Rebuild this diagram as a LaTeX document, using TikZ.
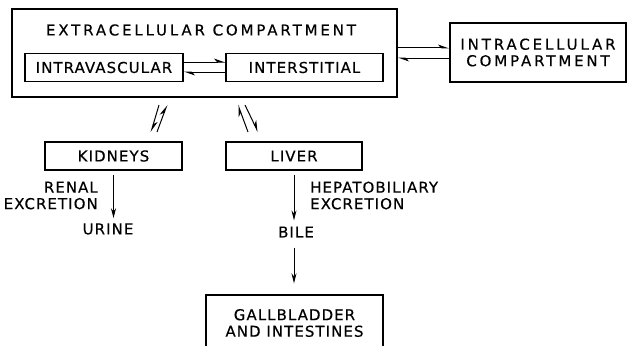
\documentclass[tikz,border=0pt]{standalone}
\usepackage{fontspec}
\usetikzlibrary{arrows.meta}
\newfontfamily\letra{DejaVu Sans}[LetterSpace=7, FakeBold=0.4]
\newfontfamily\letrancha{DejaVu Sans}[LetterSpace=19, FakeBold=0.4]
\begin{document}
\begin{tikzpicture}[
  x=1pt, y=-1pt,
  bloque/.style={draw, line width=1.4pt, inner sep=0pt},
  texto/.style={align=center, inner sep=0pt, font=\letra\fontsize{15}{16.5}\selectfont},
  ancho/.style={font=\letrancha\fontsize{15}{16.5}\selectfont},
  flechita/.style={-{Stealth[harpoon, length=10pt, width=7pt]}, line width=1pt},
  bajada/.style={-{Stealth[length=10pt, width=5pt]}, line width=1pt}
]
  \useasboundingbox (0,0) rectangle (628,345);
  \node[bloque, minimum width=385pt, minimum height=88pt] (extra) at (204.5,53) {};
  \node[texto, ancho] (titulo) at (201,30) {EXTRACELLULAR COMPARTMENT};
  \node[bloque, texto, minimum width=158pt, minimum height=28pt] (intravasc) at (104,67.5) {INTRAVASCULAR};
  \node[bloque, texto, minimum width=157pt, minimum height=28pt] (interst) at (304.5,67.5) {INTERSTITIAL};
  \node[bloque, texto, ancho, minimum width=176pt, minimum height=59pt] (intracel) at (538,52.5) {INTRACELLULAR\\COMPARTMENT};
  \node[bloque, texto, minimum width=137pt, minimum height=28pt] (kidneys) at (113.5,156) {KIDNEYS};
  \node[bloque, texto, minimum width=136pt, minimum height=28pt] (liver) at (294,156) {LIVER};
  \node[texto] (urine) at (108,229) {URINE};
  \node[texto] (bile) at (296,232) {BILE};
  \node[bloque, texto, minimum width=177pt, minimum height=56pt] (gall) at (294.5,323) {GALLBLADDER\\AND INTESTINES};
  \node[texto, anchor=east, align=right] (renal) at (98,195.5) {RENAL\\EXCRETION};
  \node[texto, anchor=west, align=left] (hepato) at (310,195.5) {HEPATOBILIARY\\EXCRETION};
  \coordinate (r1) at (159,105); \coordinate (r2) at (151,132);
  \coordinate (r3) at (157,132); \coordinate (r4) at (167,105);
  \coordinate (h1) at (248,132); \coordinate (h2) at (238,105);
  \coordinate (h3) at (245,105); \coordinate (h4) at (258,132);
  \draw[flechita] (intravasc.east |- 0,62) -- (interst.west |- 0,62);
  \draw[flechita] (interst.west |- 0,72) -- (intravasc.east |- 0,72);
  \draw[flechita] (extra.east |- 0,48) -- (intracel.west |- 0,48);
  \draw[flechita] (intracel.west |- 0,58) -- (extra.east |- 0,58);
  \draw[flechita] (r1) -- (r2);
  \draw[flechita] (r3) -- (r4);
  \draw[flechita] (h1) -- (h2);
  \draw[flechita] (h3) -- (h4);
  \draw[bajada, shorten <=4pt, shorten >=5pt] (kidneys.south) -- (kidneys.south |- urine.north);
  \draw[bajada, shorten <=4pt, shorten >=6pt] (liver.south) -- (liver.south |- bile.north);
  \draw[bajada, shorten <=10pt, shorten >=11pt] (bile.south -| liver.south) -- (gall.north -| liver.south);
\end{tikzpicture}
\end{document}
